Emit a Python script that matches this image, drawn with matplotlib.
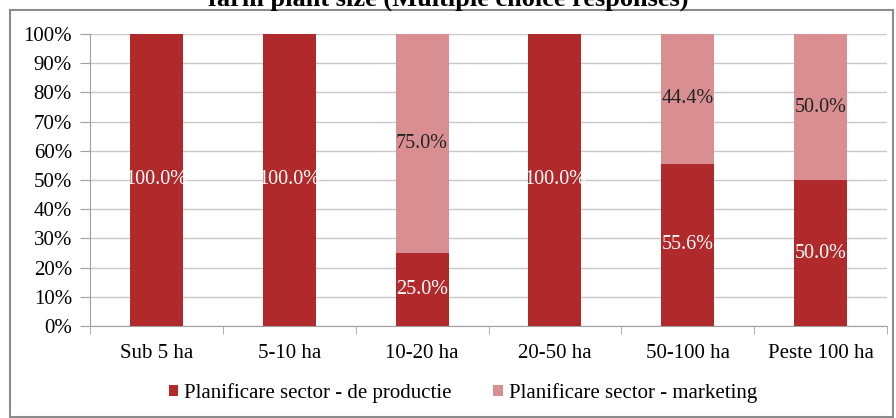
import numpy as np
import matplotlib.pyplot as plt
from matplotlib.patches import Rectangle

categories = ['Sub 5 ha', '5-10 ha', '10-20 ha', '20-50 ha', '50-100 ha', 'Peste 100 ha']
productie = [100.0, 100.0, 25.0, 100.0, 55.6, 50.0]
marketing = [0.0, 0.0, 75.0, 0.0, 44.4, 50.0]
series_names = ['Planificare sector - de productie', 'Planificare sector - marketing']
title = 'farm plant size (Multiple choice responses)'

dark = '#B02A2B'
light = '#D98F91'

plt.rcParams['font.family'] = ['Liberation Serif', 'DejaVu Serif']

fig = plt.figure(figsize=(8.96, 4.18), dpi=100)
W, H = 896, 418
ax = fig.add_axes([90 / W, 1 - 326 / H, (887 - 90) / W, (326 - 34) / H])

x = np.arange(len(categories))
b1 = ax.bar(x, productie, width=0.4, color=dark, label=series_names[0], zorder=3)
b2 = ax.bar(x, marketing, width=0.4, bottom=productie, color=light, label=series_names[1], zorder=3)

for i in range(len(categories)):
    if productie[i] > 0:
        ax.text(x[i], productie[i] / 2, '{:.1f}%'.format(productie[i]), ha='center', va='center',
                color='white', fontsize=14.5, zorder=4)
    if marketing[i] > 0:
        ax.text(x[i], productie[i] + marketing[i] / 2, '{:.1f}%'.format(marketing[i]), ha='center',
                va='center', color='#222222', fontsize=14.5, zorder=4)

ax.set_xlim(-0.5, len(categories) - 0.5)
ax.set_ylim(0, 100)
ax.set_yticks(np.arange(0, 101, 10))
ax.set_yticklabels(['{}%'.format(v) for v in range(0, 101, 10)], fontsize=15)
ax.set_xticks(x)
ax.set_xticklabels(categories, fontsize=15)
ax.set_xticks(np.arange(-0.5, len(categories), 1), minor=True)
ax.tick_params(axis='x', which='major', length=0, pad=13)
ax.tick_params(axis='x', which='minor', length=6, color='#A0A0A0', direction='out')
ax.tick_params(axis='y', length=7, color='#A0A0A0', pad=6)
ax.grid(axis='y', color='#C8C8C8', linewidth=1, zorder=0)
for s in ['top', 'right']:
    ax.spines[s].set_visible(False)
for s in ['left', 'bottom']:
    ax.spines[s].set_color('#A0A0A0')

fig.legend(handles=[b1, b2], labels=series_names, loc='center', bbox_to_anchor=(463 / W, 1 - 393 / H),
           ncol=2, frameon=False, fontsize=15, handlelength=0.45, handleheight=0.45,
           handletextpad=0.3, columnspacing=2.0)

fig.patches.append(Rectangle((10 / W, 1 / H), (893 - 10) / W, (408 - 1) / H, transform=fig.transFigure,
                             fill=False, edgecolor='#8C8C8C', linewidth=1.5))
fig.text(0.5, 1 - 6 / H, title, ha='center', va='baseline', fontsize=19, fontweight='bold')

fig.savefig('out.png', dpi=100)
